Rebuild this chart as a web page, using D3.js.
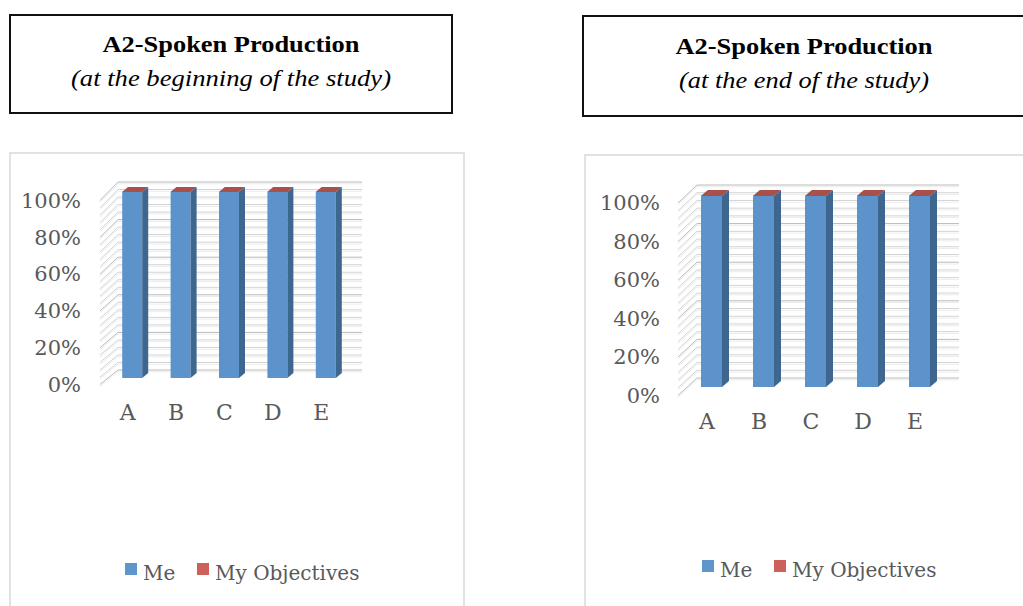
<!DOCTYPE html>
<html>
<head>
<meta charset="utf-8">
<script src="https://cdn.jsdelivr.net/npm/d3@7"></script>
<style>
  body { margin: 0; background: #fff; }
  svg { display: block; }
  .title { font-family: "Liberation Serif", "Times New Roman", serif; }
  .lbl { font-family: "DejaVu Serif", serif; }
</style>
</head>
<body>
<div id="chart"></div>
<script>
// data (100% stacked, 3D columns)
var categories = ["A", "B", "C", "D", "E"];
var meBefore = [100, 100, 100, 100, 100];
var objectivesBefore = [0, 0, 0, 0, 0];
var meAfter = [100, 100, 100, 100, 100];
var objectivesAfter = [0, 0, 0, 0, 0];
var percentTicks = [0, 20, 40, 60, 80, 100];
var seriesNames = ["Me", "My Objectives"];
var frontColors = ["#5b93ca", "#c0504d"];
var sideColors = ["#3f668f", "#8e3b38"];
var topColors = ["#7aa6d6", "#a8504a"];
var legendColors = ["#5f95cb", "#cd6159"];

var width = 1023, height = 606;

var panels = [
  { title: "A2-Spoken Production", subtitle: "(at the beginning of the study)",
    me: meBefore, obj: objectivesBefore,
    box: [10, 15, 442, 98], titleX: 231, titleY: 52, subY: 86, titleW: 257, subW: 320,
    frame: [10, 153, 454, 480],
    xRange: [108, 350], barW: 20, barDx: 6, barDy: -5, yBar: [378, 192],
    wallX: [100, 118, 362], yWall: [384.5, 200.5], yBack: [370, 182],
    axisX: 81, labelY: 423, legendX: 125, legendY: 563, legendGap: 72 },
  { title: "A2-Spoken Production", subtitle: "(at the end of the study)",
    me: meAfter, obj: objectivesAfter,
    box: [583, 16, 460, 100], titleX: 804, titleY: 54, subY: 88, titleW: 257, subW: 250,
    frame: [585, 155, 460, 480],
    xRange: [685.5, 945.5], barW: 21, barDx: 7, barDy: -6, yBar: [387, 196],
    wallX: [678, 697, 959], yWall: [395.5, 203], yBack: [378, 185],
    axisX: 660, labelY: 432, legendX: 702, legendY: 560, legendGap: 72 }
];

var svg = d3.select("#chart")
  .append("svg")
  .attr("width", width)
  .attr("height", height);

panels.forEach(function (p) {
  var g = svg.append("g");

  // title box
  g.append("rect")
    .attr("x", p.box[0]).attr("y", p.box[1])
    .attr("width", p.box[2]).attr("height", p.box[3])
    .attr("fill", "none").attr("stroke", "#111").attr("stroke-width", 2);

  g.append("text")
    .attr("class", "title")
    .attr("x", p.titleX).attr("y", p.titleY)
    .attr("text-anchor", "middle")
    .attr("font-size", 24).attr("font-weight", "bold")
    .attr("textLength", p.titleW).attr("lengthAdjust", "spacingAndGlyphs")
    .attr("fill", "#000")
    .text(p.title);

  g.append("text")
    .attr("class", "title")
    .attr("x", p.titleX).attr("y", p.subY)
    .attr("text-anchor", "middle")
    .attr("font-size", 24).attr("font-style", "italic")
    .attr("textLength", p.subW).attr("lengthAdjust", "spacingAndGlyphs")
    .attr("fill", "#000")
    .text(p.subtitle);

  // chart area border
  g.append("rect")
    .attr("x", p.frame[0]).attr("y", p.frame[1])
    .attr("width", p.frame[2]).attr("height", p.frame[3])
    .attr("fill", "#fff").attr("stroke", "#d9d9d9").attr("stroke-width", 1.5);

  var yBar = d3.scaleLinear().domain([0, 100]).range(p.yBar);
  var yWall = d3.scaleLinear().domain([0, 100]).range(p.yWall);
  var yBack = d3.scaleLinear().domain([0, 100]).range(p.yBack);
  var x = d3.scalePoint().domain(categories).range(p.xRange).padding(0.5);

  // back wall + side wall gridlines
  var grid = g.append("g");
  d3.range(0, 101, 4).forEach(function (t) {
    var major = t % 20 === 0;
    var c = major ? "#bababa" : "#d3d3d3";
    [[1.8, "#ececec"], [0, c]].forEach(function (s) {
      grid.append("line")
        .attr("x1", p.wallX[1]).attr("x2", p.wallX[2])
        .attr("y1", yBack(t) + s[0]).attr("y2", yBack(t) + s[0])
        .attr("stroke", s[1]).attr("stroke-width", 1);
      grid.append("line")
        .attr("x1", p.wallX[0]).attr("x2", p.wallX[1])
        .attr("y1", yWall(t) + s[0]).attr("y2", yBack(t) + s[0])
        .attr("stroke", s[1]).attr("stroke-width", 1);
    });
  });

  // stacked bars
  var rows = categories.map(function (c, i) {
    return { cat: c, me: p.me[i], obj: p.obj[i] };
  });
  var stack = d3.stack().keys(["me", "obj"]).offset(d3.stackOffsetExpand);
  var series = stack(rows);

  var bars = g.append("g");
  series.forEach(function (s, si) {
    s.forEach(function (d) {
      var x0 = x(d.data.cat) - p.barW / 2;
      var x1 = x0 + p.barW;
      var yt = yBar(d[1] * 100), yb = yBar(d[0] * 100);
      var dx = p.barDx, dy = p.barDy;
      if (yb - yt > 0) {
        bars.append("rect")
          .attr("x", x0).attr("y", yt)
          .attr("width", p.barW).attr("height", yb - yt)
          .attr("fill", frontColors[si]);
        bars.append("polygon")
          .attr("points", [[x1, yt], [x1 + dx, yt + dy], [x1 + dx, yb + dy], [x1, yb]].join(" "))
          .attr("fill", sideColors[si]);
      }
      bars.append("polygon")
        .attr("points", [[x0, yt], [x0 + dx, yt + dy], [x1 + dx, yt + dy], [x1, yt]].join(" "))
        .attr("fill", topColors[si]);
    });
  });

  // y axis labels
  var yAxis = d3.axisLeft(yWall)
    .tickValues(percentTicks)
    .tickFormat(function (d) { return d + "%"; })
    .tickSize(0).tickPadding(0);
  var ya = g.append("g")
    .attr("transform", "translate(" + p.axisX + ",0)")
    .call(yAxis);
  ya.select(".domain").remove();
  ya.selectAll("text")
    .attr("class", "lbl")
    .attr("font-size", 21).attr("fill", "#595959");

  // x axis labels
  var xAxis = d3.axisBottom(x).tickSize(0).tickPadding(0);
  var xa = g.append("g")
    .attr("transform", "translate(-5," + (p.labelY - 19) + ")")
    .call(xAxis);
  xa.select(".domain").remove();
  xa.selectAll("text")
    .attr("class", "lbl")
    .attr("font-size", 22).attr("fill", "#595959");

  // legend
  var lg = g.append("g");
  seriesNames.forEach(function (name, i) {
    var lx = p.legendX + i * p.legendGap;
    lg.append("rect")
      .attr("x", lx).attr("y", p.legendY)
      .attr("width", 12).attr("height", 12)
      .attr("fill", legendColors[i]);
    lg.append("text")
      .attr("class", "lbl")
      .attr("x", lx + 18).attr("y", p.legendY + 17)
      .attr("font-size", 20).attr("fill", "#595959")
      .text(name);
  });
});
</script>
</body>
</html>
